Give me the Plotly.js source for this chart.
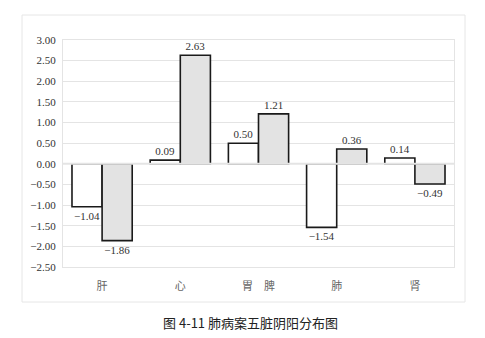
<!DOCTYPE html>
<html>
<head>
<meta charset="utf-8">
<script src="https://cdn.plot.ly/plotly-3.0.1.min.js"></script>
<style>html,body{margin:0;padding:0;background:#fff;}#chart{width:485px;height:338px;}</style>
</head>
<body>
<div id="chart"></div>
<script>
const categories = ["肝", "心", "胃　脾", "肺", "肾"];
const seriesA = [-1.04, 0.09, 0.50, -1.54, 0.14];
const seriesB = [-1.86, 2.63, 1.21, 0.36, -0.49];
const tickVals = [3, 2.5, 2, 1.5, 1, 0.5, 0, -0.5, -1, -1.5, -2, -2.5];
const tickText = ["3.00", "2.50", "2.00", "1.50", "1.00", "0.50", "0.00", "−0.50", "−1.00", "−1.50", "−2.00", "−2.50"];
const caption = "图 4-11 肺病案五脏阴阳分布图";

const fmt = v => (v < 0 ? "−" : "") + Math.abs(v).toFixed(2);
const numFont = {family: "Liberation Serif, DejaVu Serif, serif", size: 11, color: "#333"};

const L = 63, R = 454, T = 40, B = 267, W = 485, H = 338;
const pw = R - L, ph = B - T;
const px = x => (x - L) / pw;
const py = y => (B - y) / ph;

const traces = [
  {type: "bar", x: categories, y: seriesA, text: seriesA.map(fmt), textposition: "outside",
   textfont: numFont, cliponaxis: false,
   marker: {color: "#ffffff", line: {color: "#1a1a1a", width: 1.6}}, hoverinfo: "none"},
  {type: "bar", x: categories, y: seriesB, text: seriesB.map(fmt), textposition: "outside",
   textfont: numFont, cliponaxis: false,
   marker: {color: "#e3e3e3", line: {color: "#1a1a1a", width: 1.6}}, hoverinfo: "none"}
];

const layout = {
  width: W, height: H,
  margin: {l: L, r: W - R, t: T, b: H - B, pad: 0},
  paper_bgcolor: "#ffffff", plot_bgcolor: "#ffffff",
  showlegend: false,
  barmode: "group", bargap: 0.23, bargroupgap: 0,
  xaxis: {type: "category", showgrid: false, zeroline: false,
          showline: true, mirror: true, linecolor: "#e4e4e4", linewidth: 1,
          ticks: "", ticklabelstandoff: 9,
          tickfont: {family: "Noto Sans CJK SC, sans-serif", size: 11, color: "#666"}},
  yaxis: {range: [-2.5, 3.0], tickvals: tickVals, ticktext: tickText,
          showgrid: true, gridcolor: "#e4e4e4", gridwidth: 1, zeroline: false,
          showline: true, mirror: true, linecolor: "#e4e4e4", linewidth: 1,
          ticks: "", ticklabelstandoff: 4, tickfont: numFont},
  shapes: [
    {type: "rect", xref: "paper", yref: "paper", x0: px(22), x1: px(465), y0: py(302), y1: py(15),
     line: {color: "#e6e6e6", width: 1}, fillcolor: "rgba(0,0,0,0)", layer: "below"},
    {type: "line", xref: "paper", yref: "y", x0: 0, x1: 1, y0: 0, y1: 0,
     line: {color: "#e4e4e4", width: 2}, layer: "above"}
  ],
  annotations: [
    {xref: "paper", yref: "paper", x: px(250), y: py(322), text: caption, showarrow: false,
     font: {family: "Noto Sans CJK SC, sans-serif", size: 13, color: "#222"},
     xanchor: "center", yanchor: "middle"}
  ]
};

Plotly.newPlot("chart", traces, layout, {staticPlot: true, displayModeBar: false});
</script>
</body>
</html>
